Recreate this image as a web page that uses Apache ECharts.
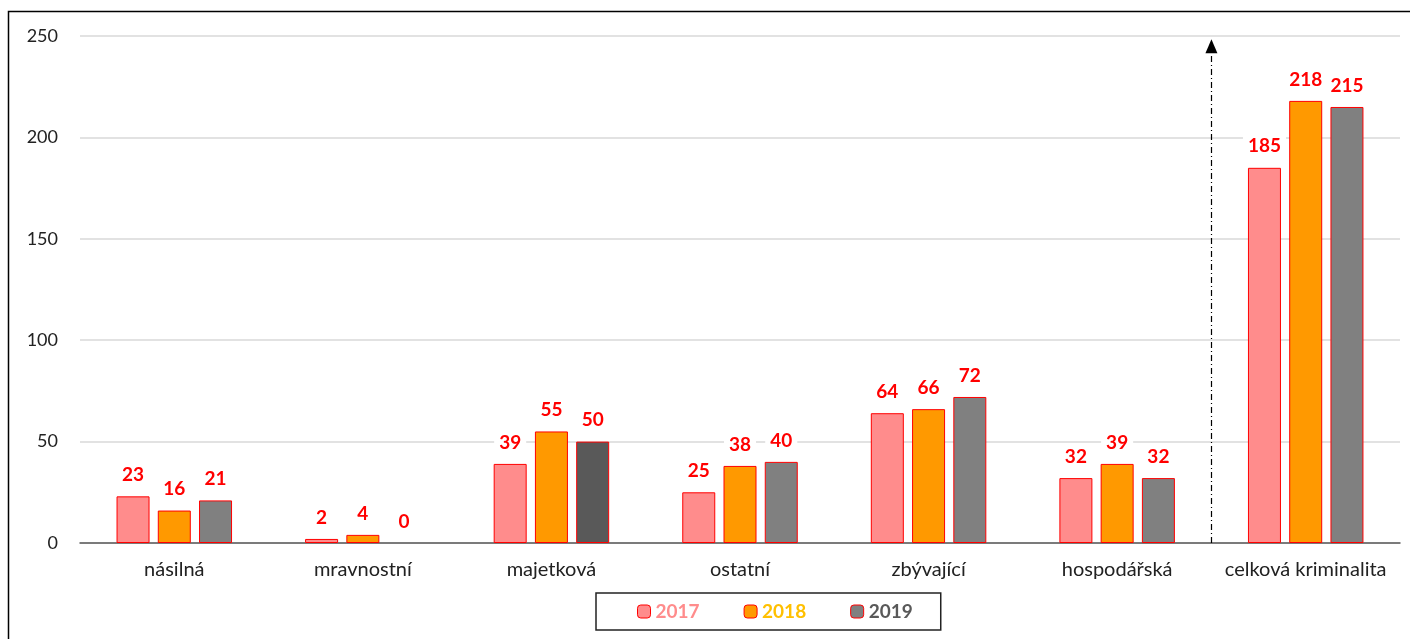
<html>
<head>
<meta charset="utf-8">
<title>Kriminalita</title>
<script src="https://cdn.jsdelivr.net/npm/echarts@6/dist/echarts.min.js"></script>
<style>
  html, body { margin: 0; padding: 0; background: #fff; }
  #main { width: 1410px; height: 639px; }
</style>
</head>
<body>
<div id="main"></div>
<script type="text/javascript">
var categories = ['násilná', 'mravnostní', 'majetková', 'ostatní', 'zbývající', 'hospodářská', 'celková kriminalita'];
var years = ['2017', '2018', '2019'];
var values2017 = [23, 2, 39, 25, 64, 32, 185];
var values2018 = [16, 4, 55, 38, 66, 39, 218];
var values2019 = [21, 0, 50, 40, 72, 32, 215];
var yTicks = [0, 50, 100, 150, 200, 250];

var fills = ['#FF8C8C', '#FF9900', '#808080'];
var legendText = ['#FF8C8C', '#FFC000', '#595959'];

function barData(vals, idx) {
  return vals.map(function (v, i) {
    // majetková 2019 je v originále tmavší
    if (idx === 2 && i === 2) {
      return { value: v, itemStyle: { color: '#595959' } };
    }
    // nulový sloupec bez rámečku
    if (v === 0) {
      return { value: v, itemStyle: { borderWidth: 0 } };
    }
    return v;
  });
}

var font = 'Lato, "Open Sans", sans-serif';
var series = [values2017, values2018, values2019].map(function (vals, k) {
  return {
    name: years[k],
    type: 'bar',
    barWidth: 33,
    barGap: '25%',
    itemStyle: { color: fills[k], borderColor: '#FF0000', borderWidth: 1 },
    label: {
      show: true,
      position: 'top',
      distance: 10,
      color: '#FF0000',
      fontWeight: 'bold',
      fontSize: 19,
      fontFamily: font,
      backgroundColor: '#fff',
      padding: [2, 5]
    },
    data: barData(vals, k)
  };
});

// dělicí čára před celkovou kriminalitou
series.push({
  type: 'line',
  xAxisIndex: 1,
  data: [],
  silent: true,
  markLine: {
    silent: true,
    symbol: ['none', 'triangle'],
    symbolSize: [12, 14],
    label: { show: false },
    lineStyle: { color: '#000', width: 1.2, type: [6, 3, 1, 3] },
    data: [[{ coord: [categories.length - 1, 0] }, { coord: [categories.length - 1, 245] }]]
  }
});

var myChart = echarts.init(document.getElementById('main'));
myChart.setOption({
  backgroundColor: '#fff',
  animation: false,
  graphic: [{
    type: 'rect',
    shape: { x: 8.5, y: 11.5, width: 1420, height: 660 },
    style: { fill: 'none', stroke: '#000', lineWidth: 1.5 }
  }],
  legend: {
    data: years.map(function (y, k) {
      return { name: y, textStyle: { color: legendText[k] } };
    }),
    left: 596,
    top: 593,
    width: 344,
    itemWidth: 13,
    itemHeight: 13,
    itemGap: 44,
    padding: [9, 28, 9, 41],
    borderColor: '#222',
    borderWidth: 1.5,
    textStyle: { fontSize: 19, fontWeight: 'bold', fontFamily: font },
    itemStyle: { borderColor: '#FF0000', borderWidth: 1 }
  },
  grid: { left: 80, right: 10, top: 36, bottom: 96, containLabel: false },
  xAxis: [{
    type: 'category',
    data: categories,
    axisTick: { show: false },
    axisLine: { lineStyle: { color: '#595959', width: 1.5 } },
    axisLabel: { interval: 0, color: '#222', fontSize: 20, fontFamily: font, margin: 17 }
  }, {
    type: 'value',
    min: 0,
    max: categories.length,
    show: false
  }],
  yAxis: {
    type: 'value',
    min: yTicks[0],
    max: yTicks[yTicks.length - 1],
    interval: 50,
    axisLine: { show: false },
    axisTick: { show: false },
    splitLine: { lineStyle: { color: '#d9d9d9', width: 1.5 } },
    axisLabel: { color: '#222', fontSize: 18, fontFamily: font, margin: 22 }
  },
  series: series
});
</script>
</body>
</html>
